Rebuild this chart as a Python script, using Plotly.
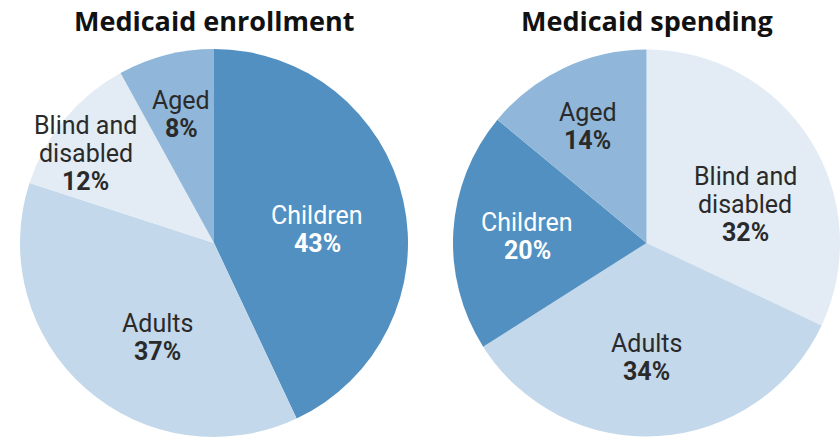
import math
import plotly.graph_objects as go

enroll_labels = ["Children", "Adults", "Blind and<br>disabled", "Aged"]
enroll_values = [43, 37, 12, 8]
enroll_colors = ["#5290c2", "#c3d8ea", "#e3ecf5", "#90b7d9"]
enroll_text_colors = ["#ffffff", "#2a2a2a", "#2a2a2a", "#2a2a2a"]
# label placement style: distance from centre (fraction of radius) and angular nudge (deg)
enroll_label_r = [0.536, 0.567, 0.804, 0.686]
enroll_label_nudge = [4.9, -10.2, -4.8, 0.1]

spend_labels = ["Blind and<br>disabled", "Adults", "Children", "Aged"]
spend_values = [32, 34, 20, 14]
spend_colors = ["#e3ecf5", "#c3d8ea", "#5290c2", "#90b7d9"]
spend_text_colors = ["#2a2a2a", "#2a2a2a", "#ffffff", "#2a2a2a"]
spend_label_r = [0.542, 0.588, 0.619, 0.675]
spend_label_nudge = [11.2, 4.1, -0.3, -1.6]

titles = ["Medicaid enrollment", "Medicaid spending"]

W, H = 840, 438
R = 194
CENTERS = [(214, 243), (647, 243)]
LABEL_FONT = "Roboto, Liberation Sans, sans-serif"
TITLE_FONT = "Open Sans, Lato, sans-serif"
LINE_PITCH = 28
LABEL_SIZE = 25

fig = go.Figure()
pies = [
    (enroll_labels, enroll_values, enroll_colors, enroll_text_colors, enroll_label_r, enroll_label_nudge),
    (spend_labels, spend_values, spend_colors, spend_text_colors, spend_label_r, spend_label_nudge),
]
for (labels, values, colors, tcolors, lr, nudge), (cx, cy), title in zip(pies, CENTERS, titles):
    fig.add_trace(go.Pie(
        labels=[l.replace("<br>", " ") for l in labels], values=values, sort=False,
        direction="clockwise", rotation=0,
        marker=dict(colors=colors, line=dict(width=0)), textinfo="none",
        domain=dict(x=[(cx - R) / W, min(1.0, (cx + R) / W)],
                    y=[(H - cy - R) / H, (H - cy + R) / H]),
        showlegend=False, hoverinfo="label+percent",
    ))
    total = sum(values)
    cum = 0
    for lab, v, tc, rf, nd in zip(labels, values, tcolors, lr, nudge):
        mid = (cum + v / 2) / total * 2 * math.pi + math.radians(nd)
        cum += v
        px = cx + rf * R * math.sin(mid)
        py = cy - rf * R * math.cos(mid)
        lines = lab.split("<br>") + [f"<b>{v}%</b>"]
        n = len(lines)
        for i, line in enumerate(lines):
            ly = py + (i - (n - 1) / 2) * LINE_PITCH
            fig.add_annotation(
                text=line, x=px / W, y=1 - ly / H, xref="paper", yref="paper",
                xanchor="center", yanchor="middle", showarrow=False,
                font=dict(family=LABEL_FONT, size=LABEL_SIZE, color=tc))
    fig.add_annotation(text=f"<b>{title}</b>", x=cx / W, y=1 - 20 / H, xref="paper", yref="paper",
                       xanchor="center", yanchor="middle", showarrow=False,
                       font=dict(family=TITLE_FONT, size=27, color="#111111"))

fig.update_layout(width=W, height=H, margin=dict(l=0, r=0, t=0, b=0),
                  paper_bgcolor="white", plot_bgcolor="white")
fig.write_html("out.html", config={"displayModeBar": False},
               post_script="document.body.style.margin='0';")
